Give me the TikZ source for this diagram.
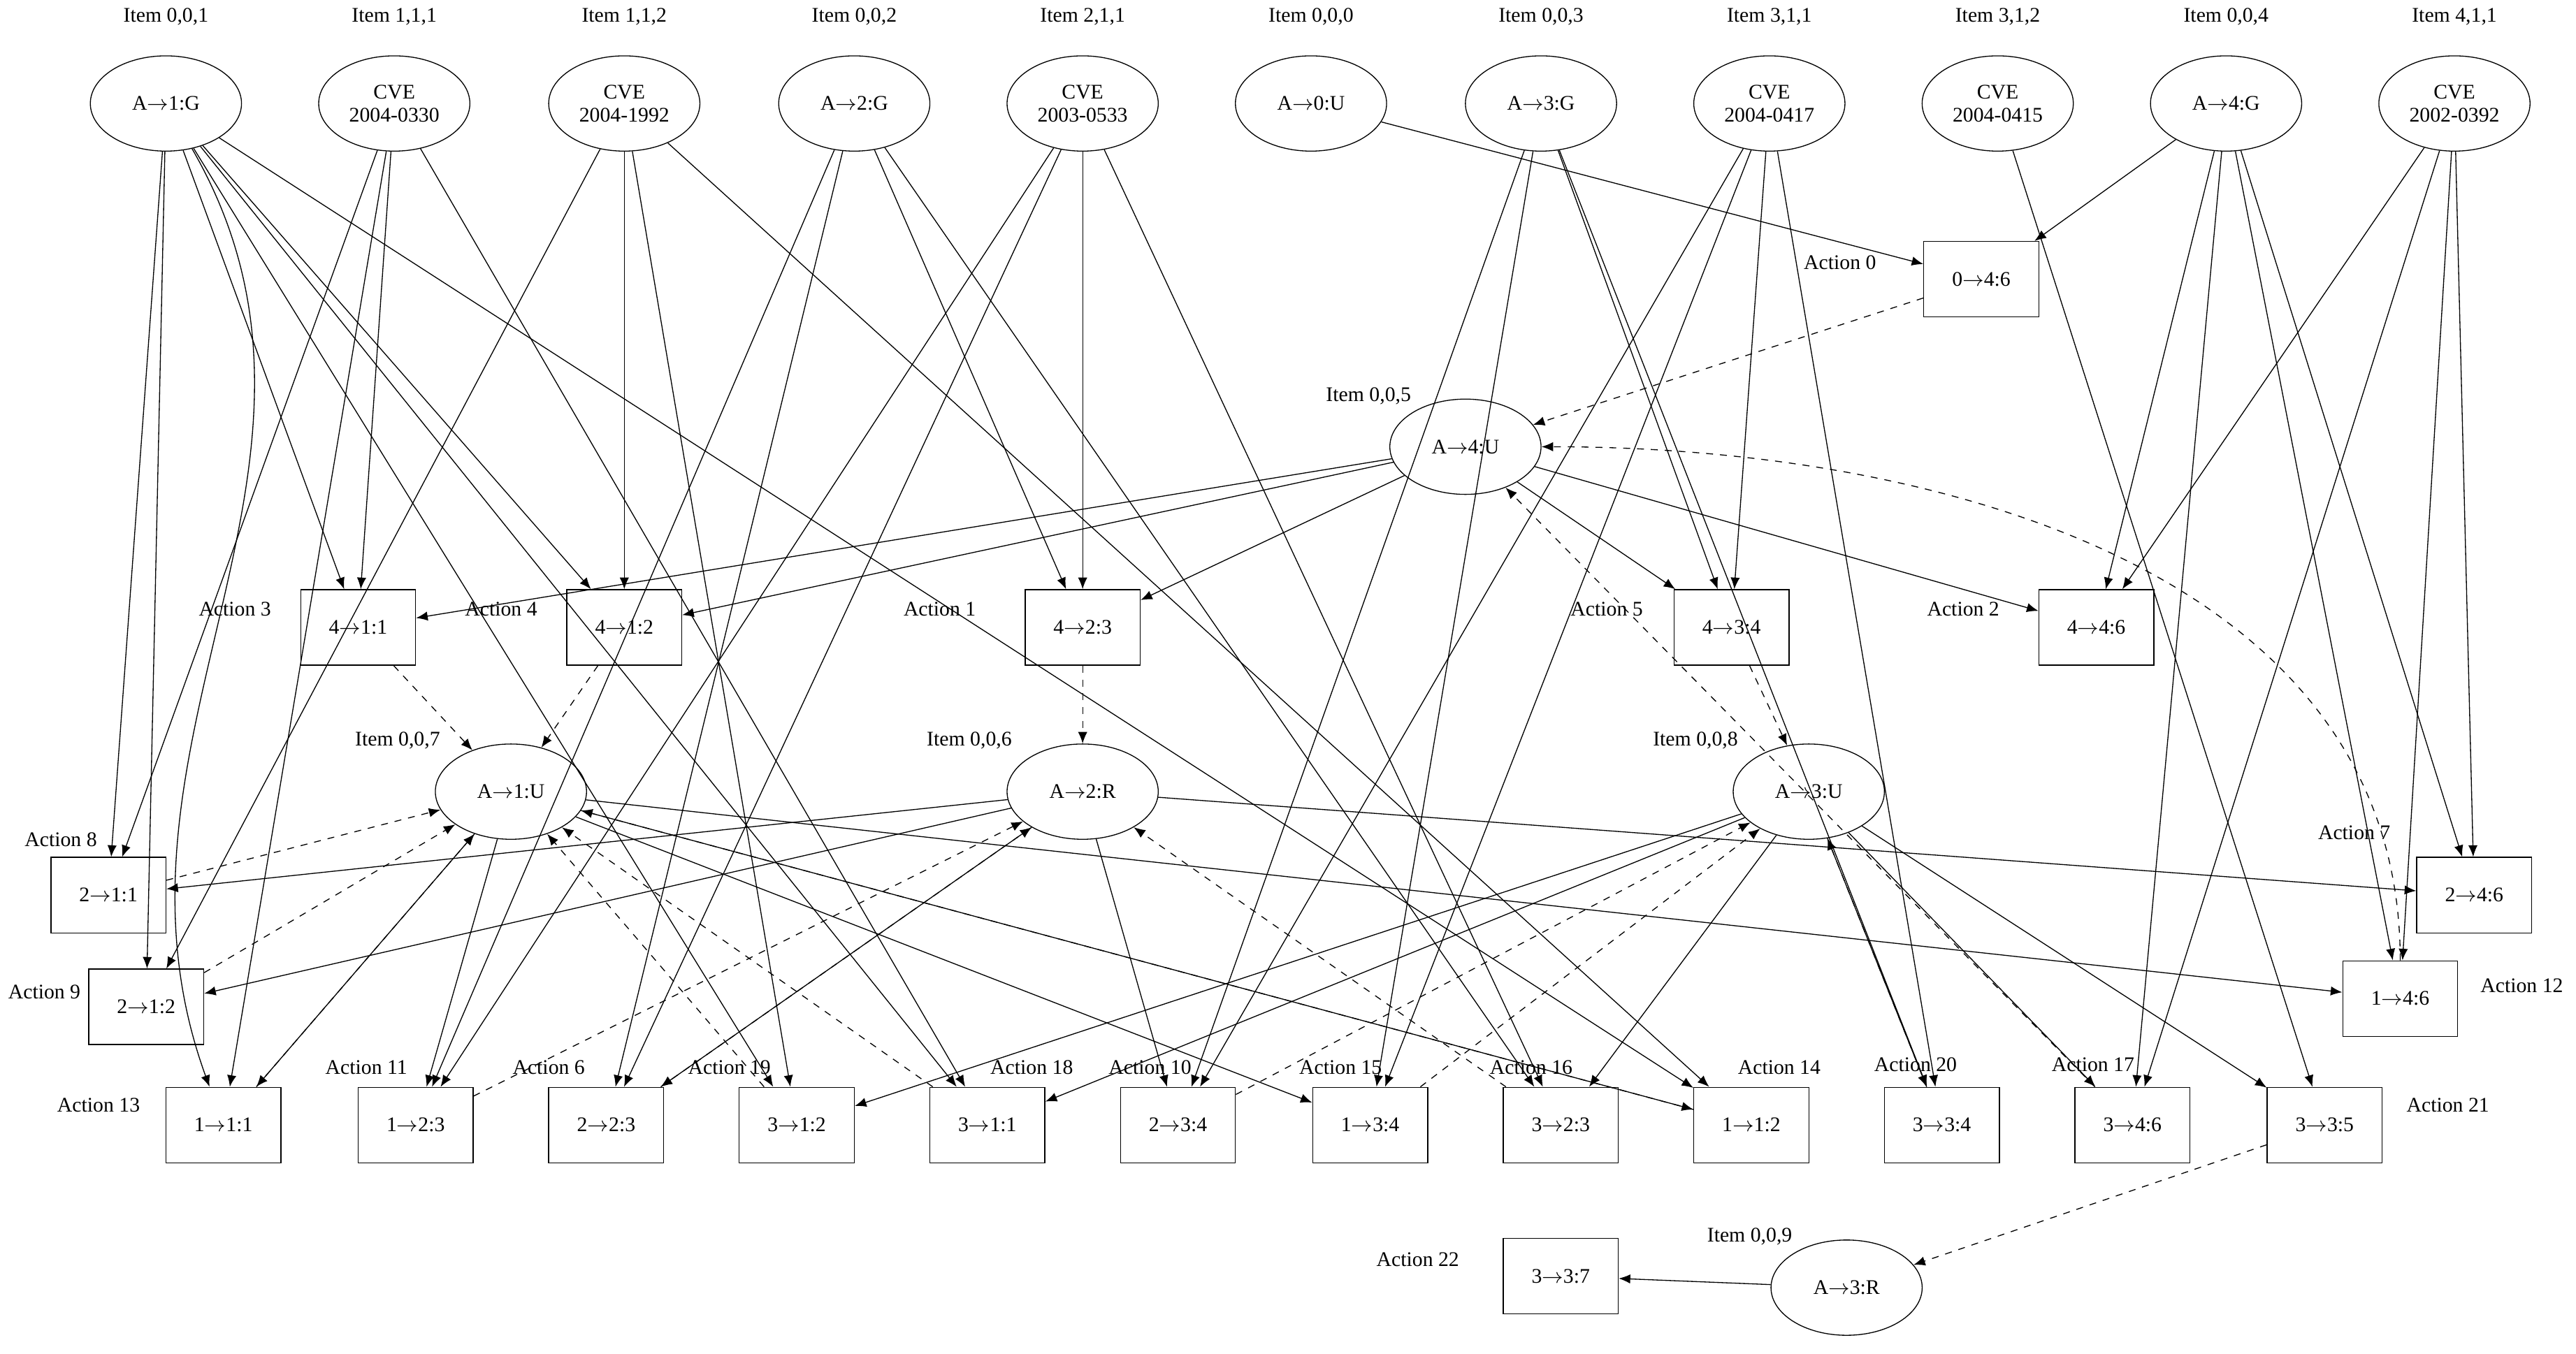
\documentclass[tikz,border=0pt]{standalone}
\usepackage{fontspec}
\setmainfont{Liberation Serif}
\usetikzlibrary{shapes.geometric,arrows.meta}
\begin{document}
\begin{tikzpicture}[x=0.025cm,y=-0.025cm,
 every node/.style={font=\fontsize{9}{10}\selectfont},
 el/.style={ellipse,draw,minimum width=2.3cm,minimum height=1.45cm,align=center,inner sep=0pt},
 bx/.style={rectangle,draw,minimum width=1.75cm,minimum height=1.15cm},
 lb/.style={inner sep=0pt},
 e/.style={-{Latex[length=5pt,width=4pt]},thin},
 d/.style={-{Latex[length=5pt,width=4pt]},thin,dashed}]
\useasboundingbox (0,0) rectangle (1568,824);
% top row
\foreach \n/\x/\t/\l in {g1/101/{A$\to$1:G}/{Item 0,0,1}, c330/240/{CVE\\2004-0330}/{Item 1,1,1},
 c1992/380/{CVE\\2004-1992}/{Item 1,1,2}, g2/520/{A$\to$2:G}/{Item 0,0,2}, c533/659/{CVE\\2003-0533}/{Item 2,1,1},
 u0/798/{A$\to$0:U}/{Item 0,0,0}, g3/938/{A$\to$3:G}/{Item 0,0,3}, c417/1077/{CVE\\2004-0417}/{Item 3,1,1},
 c415/1216/{CVE\\2004-0415}/{Item 3,1,2}, g4/1355/{A$\to$4:G}/{Item 0,0,4}, c392/1494/{CVE\\2002-0392}/{Item 4,1,1}}
 {\node[el] (\n) at (\x,63) {\t}; \node[lb] (l\n) at (\x,10) {\l};}
\node[el] (u4) at (892,272) {A$\to$4:U}; \node[lb] (lu4) at (833,241) {Item 0,0,5};
\node[el] (u1) at (311,482) {A$\to$1:U}; \node[lb] (lu1) at (242,451) {Item 0,0,7};
\node[el] (r2) at (659,482) {A$\to$2:R}; \node[lb] (lr2) at (590,451) {Item 0,0,6};
\node[el] (u3) at (1101,482) {A$\to$3:U}; \node[lb] (lu3) at (1032,451) {Item 0,0,8};
\node[el] (r3) at (1124,784) {A$\to$3:R}; \node[lb] (lr3) at (1065,753) {Item 0,0,9};
% boxes
\foreach \n/\x/\y/\t/\lx/\ly/\l in {a0/1206/170/{0$\to$4:6}/1120/160/0, a3/218/382/{4$\to$1:1}/143/371/3,
 a4/380/382/{4$\to$1:2}/305/371/4, a1/659/382/{4$\to$2:3}/572/371/1, a5/1054/382/{4$\to$3:4}/978/371/5,
 a2/1276/382/{4$\to$4:6}/1195/371/2, a8/66/545/{2$\to$1:1}/37/511/8, a9/89/613/{2$\to$1:2}/27/604/9,
 a7/1506/545/{2$\to$4:6}/1433/507/7, a12/1461/608/{1$\to$4:6}/1535/600/12,
 a13/136/685/{1$\to$1:1}/60/673/13, a11/253/685/{1$\to$2:3}/223/650/11, a6/369/685/{2$\to$2:3}/334/650/6,
 a19/485/685/{3$\to$1:2}/444/650/19, a18/601/685/{3$\to$1:1}/628/650/18, a10/717/685/{2$\to$3:4}/700/650/10,
 a15/834/685/{1$\to$3:4}/816/650/15, a16/950/685/{3$\to$2:3}/932/650/16, a14/1066/685/{1$\to$1:2}/1083/650/14,
 a20/1182/685/{3$\to$3:4}/1166/648/20, a17/1298/685/{3$\to$4:6}/1274/648/17, a21/1415/685/{3$\to$3:5}/1490/673/21,
 a22/950/777/{3$\to$3:7}/863/767/22}
 {\node[bx] (\n) at (\x,\y) {\t}; \node[lb] (l\n) at (\lx,\ly) {Action \l};}
% preconditions
\foreach \s/\t in {u0/a0,g4/a0,
 u4/a2,g4/a2,c392/a2, u4/a3,g1/a3,c330/a3, u4/a4,g1/a4,c1992/a4, u4/a1,g2/a1,c533/a1,
 u4/a5,g3/a5,c417/a5, r2/a8,g1/a8,c330/a8, r2/a9,g1/a9,c1992/a9, r2/a7,g4/a7,c392/a7,
 u1/a12,g4/a12,c392/a12, u1/a13,c330/a13, u1/a11,g2/a11,c533/a11, r2/a6,g2/a6,c533/a6,
 u3/a19,g1/a19,c1992/a19, u3/a18,g1/a18,c330/a18, r2/a10,g3/a10,c417/a10, u1/a15,g3/a15,c417/a15,
 u3/a16,g2/a16,c533/a16, u1/a14,g1/a14,c1992/a14, u3/a20,g3/a20,c417/a20, u3/a17,g4/a17,c392/a17,
 u3/a21,c415/a21, r3/a22}
 {\draw[e] (\s) -- (\t);}
\draw[e] (g1) to[out=-60,in=110] (a13);
% postconditions
\foreach \s/\t in {a0/u4, a3/u1, a4/u1, a1/r2, a5/u3, a8/u1, a9/u1, a13/u1, a11/r2, a6/r2,
 a19/u1, a18/u1, a10/u3, a15/u3, a16/r2, a14/u1, a20/u3, a17/u4, a21/r3}
 {\draw[d] (\s) -- (\t);}
\draw[d] (a12) to[out=90,in=0] (u4);
\end{tikzpicture}
\end{document}
